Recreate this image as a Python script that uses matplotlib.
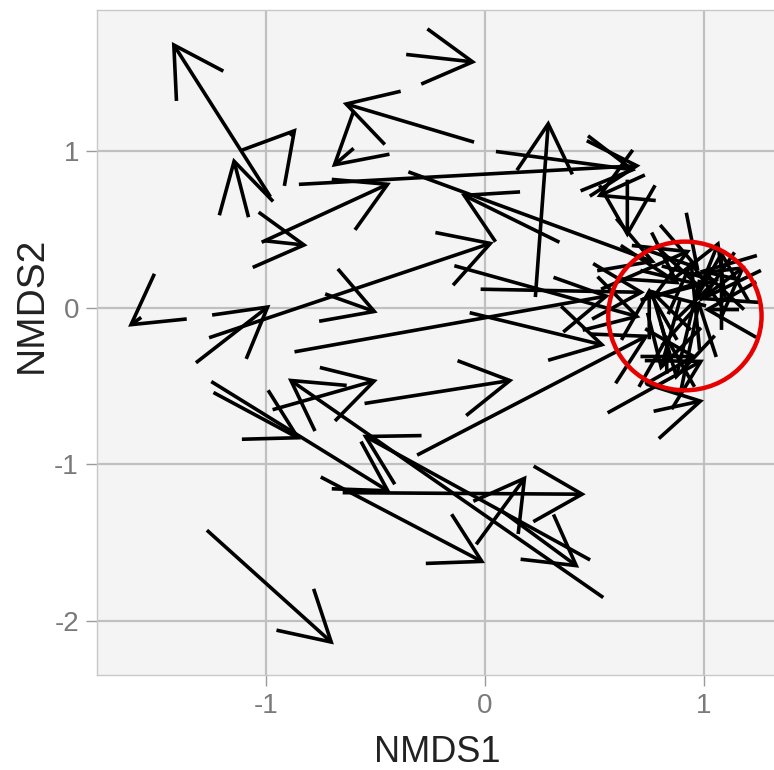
import matplotlib
matplotlib.use("Agg")
import matplotlib.pyplot as plt
from matplotlib.patches import FancyArrowPatch, Ellipse

plt.rcParams['font.family'] = ['Liberation Sans', 'DejaVu Sans']
plt.rcParams['axes.unicode_minus'] = False

# trajectory segments in NMDS space: (start) -> (end)
nmds1_start = [-0.98, -0.89, -1.08, -0.36, -0.05, -0.60, 0.23, -0.85, 0.05, -1.02,
               0.34, -0.35, -1.01, -1.57, -1.32, -1.26, -0.73, -0.87, -0.55, -1.24,
               -0.97, -0.75, 0.48, 0.54, -0.65, -1.25, -1.27, -0.04, 0.07, -0.31,
               -0.02, -0.07, -0.14, 0.65, 0.73,
               0.53, 1.16, 0.80, 0.98, 0.71, 0.94, 1.26, 0.98, 0.71, 0.89,
               0.98, 0.56, 0.77, 0.71, 1.08, 1.16, 0.62, 0.83, 0.89, 0.98, 0.75]
nmds2_start = [0.71, 1.10, 0.58, 1.62, 1.06, 1.02, 0.07, 0.79, 1.00, 0.42,
               0.42, 0.87, 0.43, -0.06, -0.35, -0.19, 0.09, -0.28, -0.61, -0.54,
               -0.65, -1.08, -1.61, -1.85, -1.18, -0.47, -1.42, -1.51, -1.29, -0.94,
               0.12, -0.03, 0.27, 0.82, 0.85,
               0.12, 0.18, 0.53, -0.27, 0.05, -0.14, 0.24, 0.05, 0.24, -0.56,
               0.18, -0.67, -0.66, -0.31, -0.14, -0.01, 0.40, -0.42, 0.05, 0.12, -0.20]
nmds1_end = [-1.43, -0.86, -1.15, -0.04, -0.65, -0.70, 0.29, 0.71, 0.69, -0.43,
             -0.11, 0.78, -0.81, -1.63, -0.98, 0.04, -0.49, 0.57, 0.13, -0.84,
             -0.49, 0.00, -0.56, -0.90, 0.46, -0.43, -0.69, 0.19, 0.43, 0.75,
             0.73, 0.55, 0.71, 0.65, 0.51,
             0.94, 0.98, 0.98, 0.94, 1.07, 0.75, 0.98, 1.19, 0.98, 0.98,
             0.87, 1.00, 1.00, 0.97, 1.08, 1.00, 0.89, 0.83, 0.80, 1.07, 0.75]
nmds2_end = [1.70, 1.15, 0.96, 1.57, 1.31, 0.90, 1.20, 0.91, 0.88, 0.80,
             0.73, 0.29, 0.40, -0.12, 0.02, 0.42, -0.03, 0.08, -0.46, -0.84,
             -0.46, -1.63, -0.81, -0.45, -1.19, -1.18, -2.15, -1.07, -1.66, -0.17,
             0.10, -0.24, -0.06, 0.45, 0.71,
             0.37, 0.24, 0.24, 0.31, 0.18, 0.12, 0.05, 0.27, 0.15, 0.05,
             -0.46, -0.33, -0.59, -0.31, 0.37, -0.01, 0.15, -0.17, -0.40, 0.43, 0.13]

xticks = [-1, 0, 1]
yticks = [-2, -1, 0, 1]

# highlighted cluster
ring_center = (0.913, -0.051)
ring_width = 0.70
ring_height = 0.95

fig = plt.figure(figsize=(7.74, 7.70), dpi=100)
ax = fig.add_axes([0.1253, 0.1234, 0.8824, 0.8636])
ax.set_facecolor('#f4f4f4')

for x0, y0, x1, y1 in zip(nmds1_start, nmds2_start, nmds1_end, nmds2_end):
    arr = FancyArrowPatch((x0, y0), (x1, y1),
                          arrowstyle='->,head_length=3.5,head_width=2.0',
                          mutation_scale=10, lw=2.6, color='black',
                          shrinkA=0, shrinkB=0, joinstyle='miter',
                          capstyle='butt', zorder=3)
    ax.add_patch(arr)

ax.add_patch(Ellipse(ring_center, ring_width, ring_height, fill=False,
                     edgecolor='#e60000', lw=3.2, zorder=5))

ax.set_xlim(-1.772, 1.347)
ax.set_ylim(-2.345, 1.904)
ax.set_xticks(xticks)
ax.set_yticks(yticks)
ax.grid(True, color='#c0c0c0', lw=1.6, zorder=0)
ax.set_axisbelow(True)
for s in ax.spines.values():
    s.set_color('#c8c8c8')
    s.set_linewidth(1.0)
ax.tick_params(length=8, width=1.0, color='#9a9a9a', labelcolor='#7a7a7a',
               labelsize=20, pad=5)

ax.set_xlabel('NMDS1', fontsize=26, color='#222222')
ax.set_ylabel('NMDS2', fontsize=28, color='#222222')
ax.xaxis.set_label_coords(0.498, -0.090)
ax.yaxis.set_label_coords(-0.069, 0.556)

fig.savefig('out.png', dpi=100)
